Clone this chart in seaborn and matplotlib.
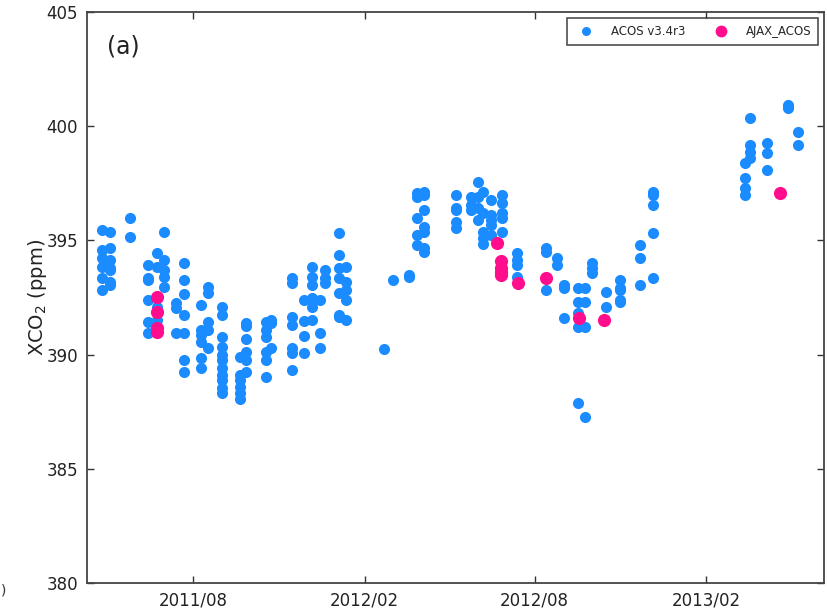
import numpy as np
import pandas as pd
import matplotlib
matplotlib.use("Agg")
import matplotlib.pyplot as plt
import matplotlib.dates as mdates
from matplotlib.lines import Line2D
import seaborn as sns

# ACOS v3.4r3 soundings: overpass date and the XCO2 values retrieved on it (ppm)
acos_dates = [
    "2011-04-26", "2011-05-04", "2011-05-26", "2011-06-14", "2011-06-23",
    "2011-07-01", "2011-07-14", "2011-07-22", "2011-08-10", "2011-08-17",
    "2011-09-01", "2011-09-20", "2011-09-27", "2011-10-18", "2011-10-24",
    "2011-11-15", "2011-11-28", "2011-12-07", "2011-12-15", "2011-12-20",
    "2012-01-04", "2012-01-12", "2012-02-22", "2012-03-02", "2012-03-19",
    "2012-03-28", "2012-04-05", "2012-05-09", "2012-05-25", "2012-06-01",
    "2012-06-07", "2012-06-15", "2012-06-27", "2012-07-13", "2012-08-13",
    "2012-08-25", "2012-09-01", "2012-09-16", "2012-09-24", "2012-10-02",
    "2012-10-16", "2012-10-31", "2012-11-22", "2012-12-06", "2013-03-14",
    "2013-03-20", "2013-04-07", "2013-04-29", "2013-05-10",
]
acos_xco2 = [
    [395.45, 394.58, 394.23, 393.83, 393.35, 392.83],
    [395.37, 394.67, 394.14, 393.79, 393.70, 393.18, 393.05],
    [395.98, 395.15],
    [393.92, 393.35, 393.27, 392.39, 391.43, 390.95],
    [394.45, 393.83, 392.08, 391.51],
    [395.37, 394.14, 393.70, 393.40, 392.96],
    [392.26, 392.04, 390.95],
    [394.01, 393.27, 392.65, 391.73, 390.95, 389.76, 389.24],
    [392.17, 391.08, 390.86, 390.55, 389.85, 389.41],
    [392.96, 392.70, 391.43, 391.08, 390.29],
    [392.08, 391.73, 390.77, 390.33, 389.98, 389.76, 389.41, 389.11, 388.89, 388.54, 388.32],
    [389.89, 389.11, 388.89, 388.58, 388.32, 388.05],
    [391.38, 391.25, 390.68, 390.11, 389.76, 389.24],
    [391.43, 391.08, 390.77, 390.11, 389.76, 389.02],
    [391.51, 391.38, 390.29],
    [393.35, 393.13, 391.65, 391.30, 390.29, 390.07, 389.33],
    [392.39, 391.47, 390.81, 390.07],
    [393.83, 393.40, 393.05, 392.48, 392.08, 391.51],
    [392.39, 390.95, 390.29],
    [393.70, 393.35, 393.13],
    [395.32, 394.36, 393.79, 393.35, 392.70, 391.73, 391.65],
    [393.83, 393.18, 392.83, 392.39, 391.51],
    [390.24],
    [393.27],
    [393.49, 393.40],
    [397.07, 396.90, 395.98, 395.24, 394.80],
    [397.12, 396.99, 396.33, 395.59, 395.37, 394.67, 394.49],
    [396.99, 396.42, 396.33, 395.80, 395.54],
    [396.90, 396.55, 396.33],
    [397.56, 396.90, 396.42, 395.89],
    [397.12, 396.20, 395.37, 395.10, 394.85],
    [396.77, 396.11, 395.89, 395.67, 395.24],
    [396.99, 396.64, 396.20, 395.98, 395.37],
    [394.45, 394.14, 393.92, 393.40],
    [394.67, 394.49, 392.83],
    [394.23, 393.92],
    [393.05, 392.92, 391.60],
    [392.92, 392.30, 391.82, 391.21, 387.88],
    [392.92, 392.30, 391.21, 387.27],
    [394.01, 393.79, 393.57],
    [392.74, 392.08],
    [393.27, 392.92, 392.83, 392.39, 392.30],
    [394.80, 394.23, 393.05],
    [397.12, 396.99, 396.55, 395.32, 393.35],
    [398.39, 397.73, 397.29, 396.99],
    [400.36, 399.18, 398.87, 398.61],
    [399.26, 398.83, 398.08],
    [400.93, 400.80],
    [399.75, 399.18],
]

# AJAX aircraft profiles coincident with ACOS
ajax_dates = [
    "2011-06-23", "2012-06-22", "2012-06-26", "2012-07-14",
    "2012-08-13", "2012-09-18", "2012-10-14", "2013-04-21",
]
ajax_xco2 = [
    [392.52, 391.86, 391.16, 390.99],
    [394.89],
    [394.10, 393.80, 393.60, 393.50],
    [393.13],
    [393.35],
    [391.60],
    [391.51],
    [397.07],
]

y_ticks = [380, 385, 390, 395, 400, 405]
x_ticks = ["2011-08-01", "2012-02-01", "2012-08-01", "2013-02-01"]


def to_frame(dates, values, source):
    rows = [(pd.Timestamp(d), v, source) for d, vs in zip(dates, values) for v in vs]
    return pd.DataFrame(rows, columns=["date", "xco2", "source"])


acos = to_frame(acos_dates, acos_xco2, "ACOS v3.4r3")
ajax = to_frame(ajax_dates, ajax_xco2, "AJAX_ACOS")

blue = "#1a8cff"
pink = "#ff0d8c"

sns.set_style("ticks")
plt.rcParams["font.family"] = ["DejaVu Sans"]

fig = plt.figure(figsize=(8.27, 6.09), dpi=100)
ax = fig.add_axes([0.1046, 0.0427, 0.8918, 0.9376])

sns.scatterplot(data=acos, x="date", y="xco2", color=blue, s=64,
                linewidth=0, ax=ax, zorder=2)
sns.scatterplot(data=ajax, x="date", y="xco2", color=pink, s=90,
                linewidth=0, ax=ax, zorder=3)

ax.set_xlim(pd.Timestamp("2011-04-09"), pd.Timestamp("2013-06-07"))
ax.set_ylim(380, 405)
ax.set_yticks(y_ticks)
ax.set_xticks([pd.Timestamp(t) for t in x_ticks])
ax.xaxis.set_major_formatter(mdates.DateFormatter("%Y/%m"))

ax.set_xlabel("")
ax.set_ylabel("XCO$_2$ (ppm)", fontsize=14, color="#222222", labelpad=-2)
ax.tick_params(direction="in", length=5, width=1, top=True, right=True,
               labelsize=12, colors="#333333", labelcolor="#222222", pad=6)
for sp in ax.spines.values():
    sp.set_linewidth(1.3)
    sp.set_color("#444444")

ax.text(0.028, 0.94, "(a)", transform=ax.transAxes, fontsize=17,
        color="#222222", va="center", ha="left")

# edge of the neighbouring panel's caption
fig.text(0.001, 0.031, ")", fontsize=10, color="#333333", ha="left", va="center")

handles = [
    Line2D([], [], linestyle="none", marker="o", markersize=6.5,
           markerfacecolor=blue, markeredgewidth=0),
    Line2D([], [], linestyle="none", marker="o", markersize=8.5,
           markerfacecolor=pink, markeredgewidth=0),
]
leg = ax.legend(handles, ["ACOS v3.4r3", "AJAX_ACOS"], loc="upper right",
                ncol=2, fontsize=8.5, frameon=True, fancybox=False,
                borderaxespad=0.5, columnspacing=2.0, handletextpad=1.1,
                borderpad=0.6)
leg.get_frame().set_edgecolor("#222222")
leg.get_frame().set_linewidth(1.2)

fig.savefig("out.png", dpi=100)
